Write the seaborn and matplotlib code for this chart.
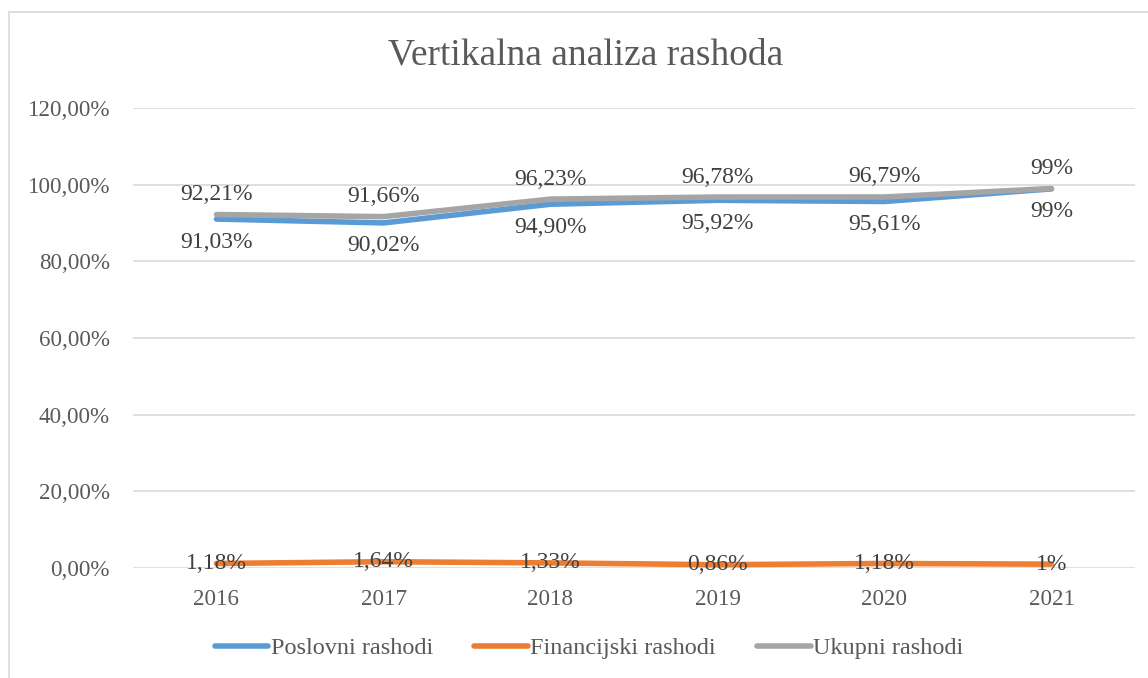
import matplotlib
matplotlib.use("Agg")
import matplotlib.pyplot as plt
import seaborn as sns
import pandas as pd
from matplotlib.patches import Rectangle

years = ["2016", "2017", "2018", "2019", "2020", "2021"]
poslovni = [91.03, 90.02, 94.90, 95.92, 95.61, 98.9]
financijski = [1.18, 1.64, 1.33, 0.86, 1.18, 1.0]
ukupni = [92.21, 91.66, 96.23, 96.78, 96.79, 99.0]
pos_labels = ["91,03%", "90,02%", "94,90%", "95,92%", "95,61%", "99%"]
fin_labels = ["1,18%", "1,64%", "1,33%", "0,86%", "1,18%", "1%"]
uk_labels = ["92,21%", "91,66%", "96,23%", "96,78%", "96,79%", "99%"]
series_names = ["Poslovni rashodi", "Financijski rashodi", "Ukupni rashodi"]
yticks = [0, 20, 40, 60, 80, 100, 120]
ytick_labels = ["0,00%", "20,00%", "40,00%", "60,00%", "80,00%", "100,00%", "120,00%"]
title = "Vertikalna analiza rashoda"

colors = ["#5B9BD5", "#ED7D31", "#A5A5A5"]
text_color = "#595959"

sns.set_theme(style="white")
plt.rcParams["font.family"] = ["Liberation Serif", "DejaVu Serif"]

df = pd.DataFrame({
    "Godina": years * 3,
    "Vrijednost": poslovni + financijski + ukupni,
    "Serija": [series_names[0]] * 6 + [series_names[1]] * 6 + [series_names[2]] * 6,
})

fig = plt.figure(figsize=(11.48, 6.78), dpi=100)
ax = fig.add_axes([133 / 1148, 1 - 568 / 678, (1135 - 133) / 1148, (568 - 108) / 678])

# figure frame
fig.patches.append(Rectangle((9 / 1148, -0.01), 1.05, 1 - 12 / 678 + 0.01,
                             transform=fig.transFigure, fill=False,
                             edgecolor="#D9D9D9", linewidth=1.2))

sns.lineplot(data=df, x="Godina", y="Vrijednost", hue="Serija",
             hue_order=series_names, palette=colors, linewidth=4.0,
             sort=False, ax=ax, legend=True)
for ln in ax.get_lines():
    ln.set_solid_capstyle("round")
    ln.set_solid_joinstyle("round")

ax.set_ylim(0, 120)
ax.set_xlim(-0.5, 5.5)
ax.set_yticks(yticks)
ax.set_yticklabels(ytick_labels)
ax.yaxis.grid(True, color="#D9D9D9", linewidth=1.2)
ax.set_axisbelow(True)
for s in ["top", "right", "left", "bottom"]:
    ax.spines[s].set_visible(False)
ax.tick_params(axis="both", length=0, labelsize=16.6, colors=text_color)
ax.tick_params(axis="y", pad=16.5)
ax.tick_params(axis="x", pad=15)
ax.set_xlabel("")
ax.set_ylabel("")

lab_color = "#404040"
for i in range(len(years)):
    ax.annotate(uk_labels[i], (i, ukupni[i]), xytext=(0, 20), textcoords="offset pixels",
                ha="center", va="center", fontsize=17, color=lab_color)
    ax.annotate(pos_labels[i], (i, poslovni[i]), xytext=(0, -23), textcoords="offset pixels",
                ha="center", va="center", fontsize=17, color=lab_color)
    ax.annotate(fin_labels[i], (i, financijski[i]), xytext=(0, 0), textcoords="offset pixels",
                ha="center", va="center", fontsize=17, color=lab_color)

fig.text(586 / 1148, 1 - 55 / 678, title, ha="center", va="center",
         fontsize=27, color=text_color)

handles, labels = ax.get_legend_handles_labels()
ax.legend(handles, labels, loc="center", bbox_to_anchor=(589 / 1148, 1 - 648 / 678),
          bbox_transform=fig.transFigure, ncol=3, frameon=False,
          fontsize=17.5, labelcolor=text_color, handlelength=2.2,
          handletextpad=0.1, columnspacing=1.7)
for lh in ax.get_legend().get_lines():
    lh.set_linewidth(4.0)
    lh.set_solid_capstyle("round")

fig.savefig("out.png", dpi=100, facecolor="white")
